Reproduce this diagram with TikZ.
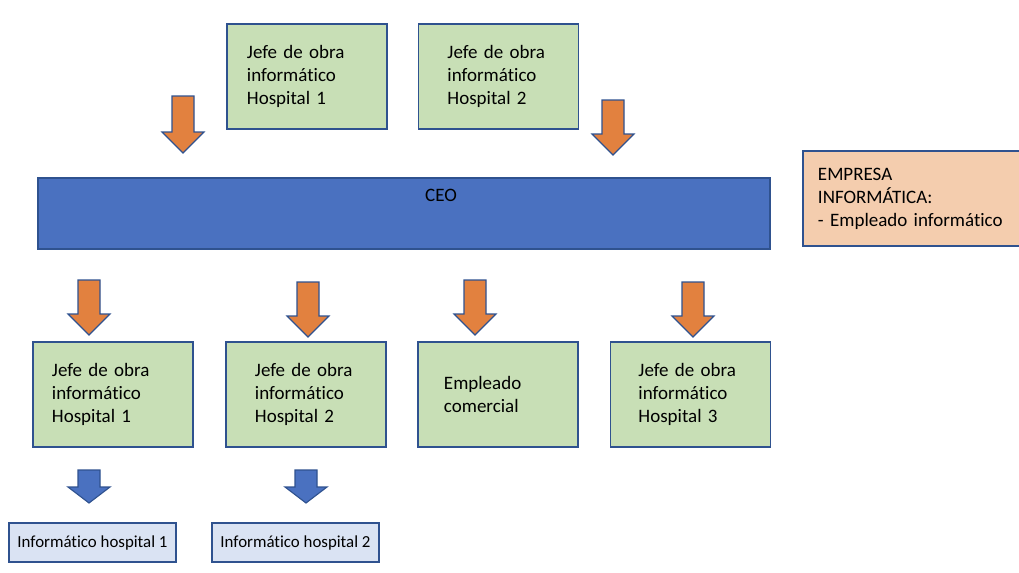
\documentclass[tikz,border=0pt]{standalone}
\usepackage{fontspec}
\setmainfont{Carlito}[RawFeature={-liga;-calt;-clig}]
\usetikzlibrary{positioning}

\definecolor{boxline}{HTML}{2F528F}
\definecolor{boxgreen}{HTML}{C8DFB6}
\definecolor{ceoblue}{HTML}{4A71C0}
\definecolor{arroworange}{HTML}{E2813F}
\definecolor{peach}{HTML}{F4CDAE}
\definecolor{paleblue}{HTML}{DAE3F3}

\newcommand{\bigtxt}{\fontsize{13.5}{16.3}\selectfont}
\newcommand{\smalltxt}{\fontsize{12}{14.5}\selectfont}

\begin{document}
\begin{tikzpicture}[x=0.025cm,y=-0.025cm,
  greenbox/.style={draw=boxline,line width=0.9pt,fill=boxgreen,minimum width=4cm,
    minimum height=2.625cm,align=left,text width=#1,font=\bigtxt},
  infobox/.style={draw=boxline,line width=0.9pt,fill=paleblue,minimum width=4.175cm,
    minimum height=0.975cm,font=\smalltxt},
  orangearrow/.style={draw=boxline,line width=0.8pt,fill=arroworange},
  bluearrow/.style={draw=boxline,line width=0.8pt,fill=ceoblue}]

  \useasboundingbox (0,0) rectangle (1019,572);

  % ------- fila superior -------
  \node[greenbox=3cm]    (jefeA) at (307,76.5)   {Jefe de obra\\informático\\Hospital 1};
  \node[greenbox=2.55cm] (jefeB) at (498.5,76.5) {Jefe de obra\\informático\\Hospital 2};

  % ------- CEO y empresa -------
  \node[draw=boxline,line width=0.9pt,fill=ceoblue,minimum width=18.3cm,
    minimum height=1.775cm] (ceo) at (404,213.5) {};
  \node[font=\bigtxt] (ceotxt) at (441,195) {CEO};
  \node[draw=boxline,line width=0.9pt,fill=peach,minimum width=5.55cm,minimum height=2.375cm,
    align=left,text width=4.8cm,font=\bigtxt] (empresa) at (914,198.5)
    {EMPRESA\\INFORMÁTICA:\\- Empleado informático};

  % ------- fila inferior -------
  \node[greenbox=3.05cm] (jefe1)     at (113,394.5)   {Jefe de obra\\informático\\Hospital 1};
  \node[greenbox=2.55cm] (jefe2)     at (306,394.5)   {Jefe de obra\\informático\\Hospital 2};
  \node[greenbox=2.7cm]  (comercial) at (498,394.5)   {Empleado\\comercial};
  \node[greenbox=2.6cm]  (jefe3)     at (690.5,394.5) {Jefe de obra\\informático\\Hospital 3};

  \node[infobox] (info1) at (92.5,542.5)  {Informático hospital 1};
  \node[infobox] (info2) at (295.5,542.5) {Informático hospital 2};

  % ------- flechas -------
  \foreach \x/\t/\b in {183/96/153,613/100/155,89/280/335,308/282/337,475/280/335,693/282/337}
    \draw[orangearrow] (\x-11,\t) -- (\x+11,\t) -- (\x+11,\b-21) -- (\x+21,\b-21)
      -- (\x,\b) -- (\x-21,\b-21) -- (\x-11,\b-21) -- cycle;
  \foreach \x in {89,306}
    \draw[bluearrow] (\x-11,470) -- (\x+11,470) -- (\x+11,487) -- (\x+21,487)
      -- (\x,503) -- (\x-21,487) -- (\x-11,487) -- cycle;

\end{tikzpicture}
\end{document}
